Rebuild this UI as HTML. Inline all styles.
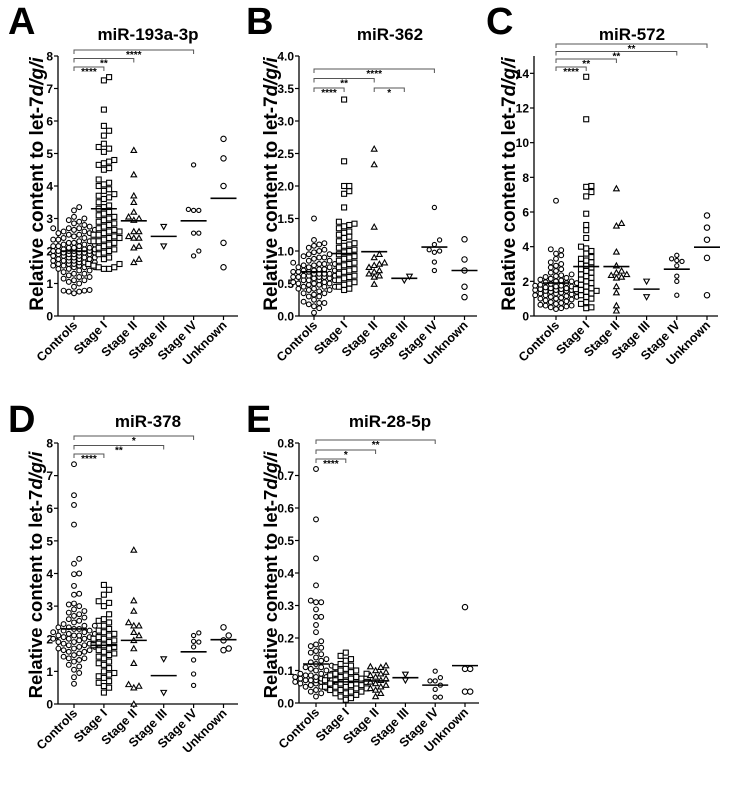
<!DOCTYPE html>
<html><head><meta charset="utf-8">
<style>
html,body{margin:0;padding:0;background:#fff;}
svg{display:block;font-family:"Liberation Sans",Arial,sans-serif;}
</style></head>
<body>
<svg id="fig" width="730" height="789" viewBox="0 0 730 789" xmlns="http://www.w3.org/2000/svg"></svg>
<script>
const categories = ["Controls","Stage I","Stage II","Stage III","Stage IV","Unknown"];

// Panel A: miR-193a-3p
const A_ticks = [0,1,2,3,4,5,6,7,8];
const A_controls = [0.7,0.75,0.75,0.78,0.78,0.8,0.9,1.0,1.05,1.1,1.1,1.15,1.2,1.2,1.25,1.3,1.3,1.35,1.4,1.4,1.45,1.45,1.5,1.5,1.5,1.55,1.55,1.55,1.6,1.6,1.6,1.6,1.65,1.65,1.65,1.7,1.7,1.7,1.7,1.75,1.75,1.75,1.8,1.8,1.8,1.8,1.85,1.85,1.85,1.9,1.9,1.9,1.9,1.95,1.95,1.95,1.95,2.0,2.0,2.0,2.0,2.0,2.05,2.05,2.05,2.05,2.1,2.1,2.1,2.15,2.15,2.15,2.2,2.2,2.2,2.25,2.25,2.3,2.3,2.35,2.35,2.4,2.4,2.45,2.5,2.5,2.55,2.55,2.6,2.6,2.65,2.65,2.7,2.7,2.7,2.75,2.8,2.85,2.9,2.95,3.0,3.05,3.25,3.35];
const A_stage1 = [7.35,7.25,6.35,5.85,5.7,5.55,5.3,5.2,5.15,5.05,4.8,4.75,4.7,4.65,4.55,4.5,4.2,4.1,4.05,4.0,3.9,3.85,3.75,3.7,3.65,3.6,3.5,3.4,3.35,3.3,3.2,3.15,3.1,3.05,3.0,2.95,2.9,2.85,2.8,2.75,2.7,2.65,2.6,2.6,2.55,2.5,2.5,2.45,2.4,2.4,2.35,2.3,2.3,2.25,2.2,2.15,2.1,2.05,2.0,1.95,1.9,1.8,1.75,1.6,1.55,1.5,1.45,1.45,1.5,1.6];
const A_stage2 = [5.1,4.35,3.7,3.5,3.2,3.05,3.0,2.95,2.6,2.6,2.45,2.4,2.4,2.15,2.1,1.75,1.65];
const A_stage3 = [2.75,2.15];
const A_stage4 = [4.65,3.25,3.25,3.28,2.55,2.55,2.0,1.85];
const A_unknown = [5.45,4.85,4.0,2.25,1.5];
const A_means = [2.0,3.3,2.93,2.45,2.93,3.62];

// Panel B: miR-362
const B_ticks = [0,0.5,1.0,1.5,2.0,2.5,3.0,3.5,4.0];
const B_controls = [0.05,0.12,0.15,0.18,0.2,0.2,0.22,0.25,0.3,0.3,0.33,0.35,0.35,0.38,0.4,0.4,0.42,0.42,0.45,0.45,0.45,0.48,0.48,0.5,0.5,0.5,0.52,0.52,0.55,0.55,0.55,0.55,0.58,0.58,0.6,0.6,0.6,0.6,0.62,0.62,0.62,0.65,0.65,0.65,0.65,0.68,0.68,0.68,0.7,0.7,0.7,0.72,0.72,0.75,0.75,0.75,0.78,0.78,0.8,0.8,0.8,0.82,0.85,0.85,0.88,0.9,0.9,0.92,0.95,0.95,0.98,1.0,1.02,1.05,1.08,1.1,1.12,1.17,1.5];
const B_stage1 = [3.33,2.38,2.0,2.0,1.92,1.88,1.67,1.45,1.42,1.4,1.38,1.35,1.3,1.28,1.25,1.22,1.2,1.15,1.12,1.1,1.08,1.05,1.02,1.0,0.98,0.95,0.92,0.9,0.88,0.85,0.82,0.8,0.78,0.75,0.72,0.7,0.68,0.65,0.62,0.6,0.58,0.55,0.52,0.5,0.48,0.45,0.42,0.4];
const B_stage2 = [2.57,2.33,1.37,0.95,0.9,0.82,0.8,0.78,0.75,0.7,0.68,0.65,0.62,0.6,0.49];
const B_stage3 = [0.61,0.55];
const B_stage4 = [1.67,1.17,1.1,1.02,1.0,0.98,0.83,0.7];
const B_unknown = [1.18,0.87,0.7,0.45,0.29];
const B_means = [0.68,0.96,0.99,0.58,1.06,0.7];

// Panel C: miR-572
const C_ticks = [0,2,4,6,8,10,12,14];
const C_controls = [0.4,0.45,0.5,0.55,0.6,0.6,0.65,0.7,0.75,0.8,0.85,0.9,0.95,1.0,1.0,1.05,1.1,1.1,1.15,1.2,1.2,1.25,1.3,1.3,1.35,1.4,1.4,1.45,1.45,1.5,1.5,1.5,1.55,1.55,1.6,1.6,1.6,1.65,1.7,1.7,1.75,1.75,1.8,1.85,1.9,1.9,1.95,2.0,2.0,2.05,2.1,2.15,2.2,2.25,2.3,2.35,2.4,2.5,2.6,2.7,2.8,2.9,3.0,3.1,3.3,3.5,3.6,3.8,3.85,6.65];
const C_stage1 = [13.8,11.35,7.5,7.45,7.15,6.9,5.9,5.25,4.95,4.5,4.0,3.9,3.75,3.6,3.4,3.3,3.2,3.1,3.0,2.9,2.8,2.7,2.6,2.5,2.4,2.3,2.2,2.1,2.0,1.9,1.8,1.7,1.6,1.55,1.5,1.45,1.4,1.3,1.2,1.1,1.0,0.8,0.7,0.5,0.45];
const C_stage2 = [7.35,5.35,5.2,3.7,2.9,2.6,2.5,2.4,2.35,2.25,2.2,1.7,1.35,0.6,0.3];
const C_stage3 = [2.0,1.1];
const C_stage4 = [3.5,3.3,3.15,2.9,2.3,2.0,1.2,3.2];
const C_unknown = [5.8,5.1,4.4,3.35,1.2];
const C_means = [1.9,2.85,2.85,1.55,2.7,3.97];

// Panel D: miR-378
const D_ticks = [0,1,2,3,4,5,6,7,8];
const D_controls = [0.62,0.82,0.95,1.05,1.15,1.2,1.3,1.35,1.4,1.4,1.45,1.5,1.55,1.6,1.6,1.65,1.65,1.7,1.7,1.75,1.75,1.8,1.8,1.85,1.85,1.9,1.9,1.95,1.95,2.0,2.0,2.0,2.05,2.05,2.1,2.1,2.1,2.15,2.15,2.2,2.2,2.25,2.25,2.3,2.3,2.35,2.35,2.4,2.4,2.45,2.5,2.55,2.6,2.65,2.7,2.75,2.8,2.85,2.9,3.0,3.05,3.08,3.35,3.38,3.62,3.98,4.0,4.3,4.45,5.5,6.1,6.4,7.35];
const D_stage1 = [3.65,3.5,3.35,3.15,3.1,3.0,2.75,2.6,2.55,2.5,2.4,2.3,2.25,2.2,2.15,2.1,2.05,2.0,2.0,1.95,1.9,1.85,1.8,1.8,1.75,1.7,1.65,1.6,1.55,1.5,1.45,1.4,1.3,1.25,1.2,1.1,1.0,0.95,0.9,0.85,0.8,0.7,0.65,0.55,0.5,0.35];
const D_stage2 = [4.72,3.17,2.85,2.5,2.4,2.4,2.2,2.1,1.95,1.7,1.25,0.6,0.55,0.5,0.0];
const D_stage3 = [1.38,0.35];
const D_stage4 = [2.18,2.1,1.92,1.9,1.75,1.35,0.92,0.57];
const D_unknown = [2.35,2.1,1.95,1.7,1.65];
const D_means = [2.3,1.8,1.95,0.87,1.6,1.97];

// Panel E: miR-28-5p
const E_ticks = [0,0.1,0.2,0.3,0.4,0.5,0.6,0.7,0.8];
const E_controls = [0.02,0.03,0.035,0.04,0.045,0.05,0.05,0.055,0.055,0.06,0.06,0.06,0.065,0.065,0.065,0.07,0.07,0.07,0.07,0.075,0.075,0.075,0.08,0.08,0.08,0.085,0.085,0.09,0.09,0.09,0.095,0.1,0.1,0.105,0.11,0.11,0.115,0.12,0.125,0.13,0.135,0.14,0.15,0.155,0.16,0.17,0.175,0.18,0.19,0.218,0.24,0.265,0.265,0.288,0.31,0.31,0.315,0.362,0.445,0.565,0.72];
const E_stage1 = [0.01,0.015,0.02,0.025,0.03,0.03,0.035,0.035,0.04,0.04,0.045,0.045,0.05,0.05,0.05,0.055,0.055,0.06,0.06,0.06,0.065,0.065,0.07,0.07,0.075,0.075,0.08,0.08,0.085,0.085,0.09,0.09,0.095,0.1,0.1,0.105,0.11,0.115,0.12,0.13,0.135,0.145,0.155];
const E_stage2 = [0.115,0.112,0.11,0.1,0.095,0.09,0.085,0.08,0.075,0.07,0.065,0.06,0.055,0.05,0.045,0.04,0.03,0.02];
const E_stage3 = [0.088,0.07];
const E_stage4 = [0.098,0.078,0.068,0.068,0.055,0.042,0.018,0.018];
const E_unknown = [0.295,0.105,0.105,0.035,0.035];
const E_means = [0.12,0.065,0.068,0.078,0.055,0.115];

const NS = "http://www.w3.org/2000/svg";
const svg = document.getElementById('fig');
function mk(tag, attrs, parent){
  const e = document.createElementNS(NS, tag);
  for (const k in attrs) e.setAttribute(k, attrs[k]);
  (parent||svg).appendChild(e);
  return e;
}

function marker(kind, x, y, g){
  let e;
  const st = {fill:'#fff', stroke:'#000', 'stroke-width':1.1};
  if (kind === 0 || kind === 5) { e = mk('circle', Object.assign({cx:x, cy:y, r:kind===5?2.7:2.4}, st), g); }
  else if (kind === 1) { e = mk('rect', Object.assign({x:x-2.5, y:y-2.5, width:5, height:5}, st), g); }
  else if (kind === 2) { e = mk('polygon', Object.assign({points:`${x},${y-2.8} ${x+2.8},${y+2.2} ${x-2.8},${y+2.2}`}, st), g); }
  else if (kind === 3) { e = mk('polygon', Object.assign({points:`${x},${y+2.8} ${x+2.8},${y-2.2} ${x-2.8},${y-2.2}`}, st), g); }
  else { e = mk('circle', Object.assign({cx:x, cy:y, r:2.1}, st), g); }
  return e;
}

function swarm(vals, yfn, cx){
  const sorted = vals.slice().sort((a,b)=>a-b);
  const placed = [];
  const out = [];
  const offs = [0];
  for (let i=1;i<=4;i++){ offs.push(i*5.2); offs.push(-i*5.2); }
  for (const v of sorted){
    const y = yfn(v);
    let best = null, bestD = -1;
    for (const o of offs){
      let md = 1e9;
      for (const p of placed){ const d = Math.hypot(p[0]-(cx+o), p[1]-y); if (d<md) md=d; }
      if (md >= 5) { best = o; bestD = md; break; }
      if (md > bestD) { bestD = md; best = o; }
    }
    placed.push([cx+best, y]);
    out.push([cx+best, y]);
  }
  return out;
}

function panel(cfg){
  const g = mk('g', {});
  
  
  const yfn = v => cfg.y0 - (v - 0) / cfg.ymax * (cfg.y0 - cfg.ytop);
  const xfn = i => cfg.cx0 + i * cfg.dx;

  const letter = mk('text', {x:cfg.lx, y:cfg.ly, 'font-size':38, 'font-weight':'bold'}, g);
  letter.textContent = cfg.letter;
  
  

  const title = mk('text', {x:cfg.tx, y:cfg.ty, 'font-size':17, 'font-weight':'bold', 'text-anchor':'middle'}, g);
  title.textContent = cfg.title;
  
  

  const yt = mk('text', {x:0, y:0, 'font-size':cfg.yfs, 'font-weight':'bold', 'text-anchor':'middle', transform:`translate(${cfg.ytx},${cfg.yty}) rotate(-90)`}, g);
  yt.innerHTML = 'Relative content to let-7<tspan font-style="italic">d/g/i</tspan>';
  
  

  const yax = mk('line', {x1:cfg.ax, y1:cfg.ytop, x2:cfg.ax, y2:cfg.y0, stroke:'#000', 'stroke-width':1.3}, g);
  
  
  const xax = mk('line', {x1:cfg.ax, y1:cfg.y0, x2:cfg.xend, y2:cfg.y0, stroke:'#000', 'stroke-width':1.3}, g);
  
  

  cfg.ticks.forEach(t => {
    const y = yfn(t);
    mk('line', {x1:cfg.ax-4, y1:y, x2:cfg.ax, y2:y, stroke:'#000', 'stroke-width':1.2}, g);
    const tl = mk('text', {x:cfg.ax-5, y:y+4.5, 'font-size':12, 'font-weight':'bold', 'text-anchor':'end'}, g);
    tl.textContent = cfg.tickFmt(t);
    
    
  });

  categories.forEach((c, i) => {
    const x = xfn(i);
    mk('line', {x1:x, y1:cfg.y0, x2:x, y2:cfg.y0+4, stroke:'#000', 'stroke-width':1.2}, g);
    const xl = mk('text', {x:0, y:0, 'font-size':12.5, 'font-weight':'bold', 'text-anchor':'end', transform:`translate(${x+4},${cfg.y0+10}) rotate(-45)`}, g);
    xl.textContent = c;
    
    
  });

  cfg.groups.forEach((vals, i) => {
    const gg = mk('g', {}, g);
    
    
    swarm(vals, yfn, xfn(i)).forEach(p => {
      const m = marker(i, p[0], p[1], gg);
      
      
    });
    const my = yfn(cfg.means[i]);
    const ml = mk('line', {x1:xfn(i)-13, y1:my, x2:xfn(i)+13, y2:my, stroke:'#000', 'stroke-width':1.6}, g);
    
    
  });

  cfg.brackets.forEach(b => {
    const x1 = xfn(b[0]), x2 = xfn(b[1]), y = b[2];
    const br = mk('path', {d:`M${x1},${y+4} V${y} H${x2} V${y+4}`, fill:'none', stroke:'#555', 'stroke-width':1}, g);
    
    
    const st = mk('text', {x:(x1+x2)/2, y:y+8, 'font-size':10, 'font-weight':'bold', 'text-anchor':'middle'}, g);
    st.textContent = b[3];
    
    
  });
}

const fmtInt = t => String(t);
const fmt1 = t => t.toFixed(1);

panel({id:'a', letter:'A', title:'miR-193a-3p', lx:8, ly:34, tx:148, ty:40,
  ytx:43, yty:184, yfs:19, ax:58, ytop:56, y0:316, ymax:8, xend:238, cx0:74, dx:29.9,
  ticks:A_ticks, tickFmt:fmtInt, groups:[A_controls,A_stage1,A_stage2,A_stage3,A_stage4,A_unknown], means:A_means,
  brackets:[[0,4,50,'****'],[0,2,58.5,'**'],[0,1,67,'****']]});

panel({id:'b', letter:'B', title:'miR-362', lx:246, ly:34, tx:390, ty:40,
  ytx:277, yty:184, yfs:19, ax:299, ytop:56, y0:316, ymax:4, xend:477, cx0:314, dx:30.1,
  ticks:B_ticks, tickFmt:fmt1, groups:[B_controls,B_stage1,B_stage2,B_stage3,B_stage4,B_unknown], means:B_means,
  brackets:[[0,4,69,'****'],[0,2,78.5,'**'],[0,1,88,'****'],[2,3,88,'*']]});

panel({id:'c', letter:'C', title:'miR-572', lx:486, ly:34, tx:632, ty:40,
  ytx:515, yty:184, yfs:19, ax:534, ytop:56, y0:316, ymax:15, xend:718, cx0:556, dx:30.2,
  ticks:C_ticks, tickFmt:fmtInt, groups:[C_controls,C_stage1,C_stage2,C_stage3,C_stage4,C_unknown], means:C_means,
  brackets:[[0,5,44,'**'],[0,4,51.5,'**'],[0,2,59,'**'],[0,1,67,'****']]});

panel({id:'d', letter:'D', title:'miR-378', lx:8, ly:432, tx:148, ty:427,
  ytx:42, yty:575, yfs:18.5, ax:58, ytop:443, y0:704, ymax:8, xend:238, cx0:74, dx:29.9,
  ticks:D_ticks, tickFmt:fmtInt, groups:[D_controls,D_stage1,D_stage2,D_stage3,D_stage4,D_unknown], means:D_means,
  brackets:[[0,4,436,'*'],[0,3,445.5,'**'],[0,1,454,'****']]});

panel({id:'e', letter:'E', title:'miR-28-5p', lx:246, ly:432, tx:390, ty:427,
  ytx:277, yty:575, yfs:18.5, ax:299, ytop:443, y0:703, ymax:0.8, xend:479, cx0:316, dx:29.8,
  ticks:E_ticks, tickFmt:fmt1, groups:[E_controls,E_stage1,E_stage2,E_stage3,E_stage4,E_unknown], means:E_means,
  brackets:[[0,4,440,'**'],[0,2,450,'*'],[0,1,459,'****']]});
</script>
</body></html>
